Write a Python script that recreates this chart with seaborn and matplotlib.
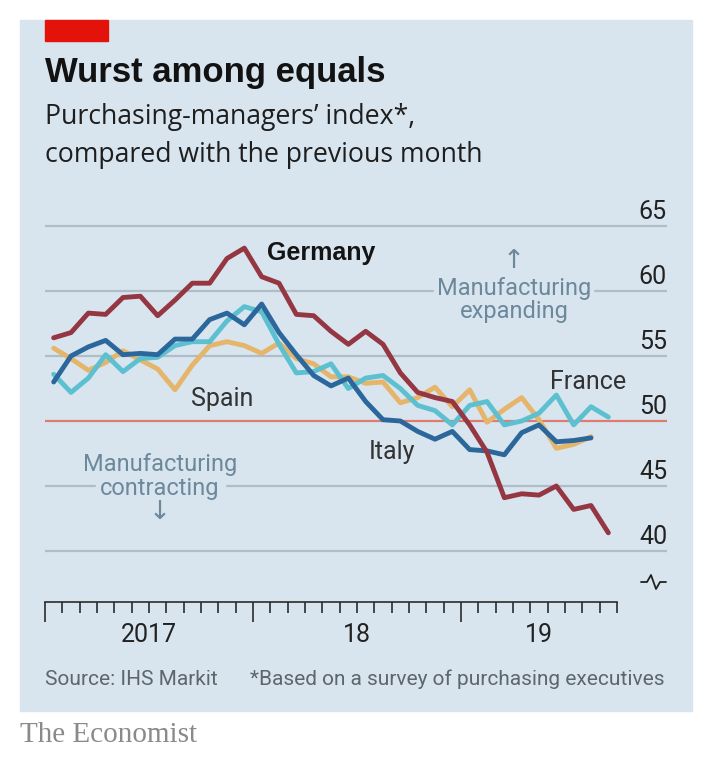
import numpy as np
import pandas as pd
import matplotlib
matplotlib.use("Agg")
from matplotlib import pyplot as plt
from matplotlib.patches import Rectangle
from matplotlib.lines import Line2D
import seaborn as sns


# Monthly PMI readings, Jan 2017 onwards
germany = [56.4, 56.8, 58.3, 58.2, 59.5, 59.6, 58.1, 59.3, 60.6, 60.6, 62.5, 63.3,
           61.1, 60.6, 58.2, 58.1, 56.9, 55.9, 56.9, 55.9, 53.7, 52.2, 51.8, 51.5,
           49.7, 47.6, 44.1, 44.4, 44.3, 45.0, 43.2, 43.5, 41.4]
france = [53.6, 52.2, 53.3, 55.1, 53.8, 54.8, 54.9, 55.8, 56.1, 56.1, 57.7, 58.8,
          58.4, 55.9, 53.7, 53.8, 54.4, 52.5, 53.3, 53.5, 52.5, 51.2, 50.8, 49.7,
          51.2, 51.5, 49.7, 50.0, 50.6, 52.0, 49.7, 51.1, 50.3]
italy = [53.0, 55.0, 55.7, 56.2, 55.1, 55.2, 55.1, 56.3, 56.3, 57.8, 58.3, 57.4,
         59.0, 56.8, 55.1, 53.5, 52.7, 53.3, 51.5, 50.1, 50.0, 49.2, 48.6, 49.2,
         47.8, 47.7, 47.4, 49.1, 49.7, 48.4, 48.5, 48.7]
spain = [55.6, 54.8, 53.9, 54.5, 55.4, 54.7, 54.0, 52.4, 54.3, 55.8, 56.1, 55.8,
         55.2, 56.0, 54.8, 54.4, 53.4, 53.4, 52.9, 53.0, 51.4, 51.8, 52.6, 51.1,
         52.4, 49.9, 50.9, 51.8, 50.1, 47.9, 48.2, 48.8]

countries = ["Spain", "France", "Italy", "Germany"]   # draw order, last on top
series = {"Germany": germany, "France": france, "Italy": italy, "Spain": spain}
colours = {"Germany": "#953643", "France": "#5cc0d1", "Italy": "#2c679c", "Spain": "#e4b56a"}

year_labels = ["2017", "18", "19"]
y_labels = [40, 45, 50, 55, 60, 65]

start = pd.Period("2017-01", freq="M")
axis_end = pd.Period("2019-10", freq="M")

rows = []
for name, vals in series.items():
    months = pd.period_range(start, periods=len(vals), freq="M")
    for m, v in zip(months, vals):
        # plot each month in the middle of its slot
        rows.append({"country": name, "x": (m - start).n + 0.5, "value": v})
df = pd.DataFrame(rows)

BG = "#d9e5ee"
GRID = "#aebdc8"
RED = "#e07b72"
NOTE = "#6c899c"

sns.set_style("white")
COND = ["Roboto", "DejaVu Sans"]
SANS = ["Liberation Sans", "DejaVu Sans"]
plt.rcParams["font.family"] = COND

W, H = 720, 770
fig = plt.figure(figsize=(W / 100, H / 100), dpi=100, facecolor="white")


def fx(px):
    return px / W


def fy(py):
    return 1 - py / H


# blue panel and red tag
fig.add_artist(Rectangle((fx(20), fy(711)), fx(672), (711 - 20) / H,
                         transform=fig.transFigure, color=BG, zorder=0))
fig.add_artist(Rectangle((fx(45), fy(41)), fx(63), 21 / H,
                         transform=fig.transFigure, color="#e3120b", zorder=1))

fig.text(fx(45), fy(82), "Wurst among equals", family=SANS, fontsize=25,
         fontweight="bold", color="#121212", va="baseline")
SUB = ["Open Sans", "DejaVu Sans"]
fig.text(fx(45), fy(124), "Purchasing-managers\u2019 index*,", family=SUB,
         fontsize=19.2, color="#1e1e1e", va="baseline")
fig.text(fx(45), fy(162), "compared with the previous month", family=SUB,
         fontsize=19.2, color="#1e1e1e", va="baseline")

fig.text(fx(45), fy(685), "Source: IHS Markit", fontsize=15, color="#5d666c", va="baseline")
fig.text(fx(665), fy(685), "*Based on a survey of purchasing executives", fontsize=15,
         color="#5d666c", va="baseline", ha="right")
fig.text(fx(20), fy(742), "The Economist", family=["Liberation Serif", "DejaVu Serif"],
         fontsize=21, color="#8a8a8a", va="baseline")

# axes: left edge = Jan 2017, bottom = x-axis line
ax_left, ax_right, ax_top, ax_bottom = 45, 667, 218, 602
ax = fig.add_axes([fx(ax_left), fy(ax_bottom), (ax_right - ax_left) / W, (ax_bottom - ax_top) / H])
ax.patch.set_visible(False)

px_per_unit = 13.0
ax.set_ylim(40 - (ax_bottom - 551) / px_per_unit, 65 + (226 - ax_top) / px_per_unit)
ax.set_xlim(0, (ax_right - ax_left) / (208 / 12))


def frac(px):
    return (px - ax_left) / (ax_right - ax_left)


# gridlines, two of them broken where the notes sit
ax.axhline(40, color=GRID, lw=1.6, zorder=1)
ax.axhline(45, xmax=frac(95), color=GRID, lw=1.6, zorder=1)
ax.axhline(45, xmin=frac(227), color=GRID, lw=1.6, zorder=1)
ax.axhline(55, color=GRID, lw=1.6, zorder=1)
ax.axhline(60, xmax=frac(433), color=GRID, lw=1.6, zorder=1)
ax.axhline(60, xmin=frac(595), color=GRID, lw=1.6, zorder=1)
ax.axhline(65, color=GRID, lw=1.6, zorder=1)
ax.axhline(50, color=RED, lw=1.6, zorder=1.5)

sns.lineplot(data=df, x="x", y="value", hue="country", hue_order=countries,
             palette=colours, lw=3.5, legend=False, errorbar=None, ax=ax, zorder=2)
for ln in ax.lines:
    ln.set_solid_joinstyle("round")

ax.set_xlabel("")
ax.set_ylabel("")
for s in ["left", "right", "top"]:
    ax.spines[s].set_visible(False)
n_months = (axis_end - start).n
ax.spines["bottom"].set_bounds(0, n_months)
ax.spines["bottom"].set_color("#2a2a2a")
ax.spines["bottom"].set_linewidth(1.2)

ax.set_yticks([])
ax.set_xticks(np.arange(0, n_months + 1, 12))
ax.set_xticks(np.arange(0, n_months + 1), minor=True)
ax.tick_params(axis="x", which="major", bottom=True, direction="out", length=14.5,
               width=1.2, color="#2a2a2a", labelbottom=False)
ax.tick_params(axis="x", which="minor", bottom=True, direction="out", length=8,
               width=1.2, color="#2a2a2a", labelbottom=False)

# year labels centred in each year slot
year_starts = list(range(0, n_months, 12))
for lab, ys in zip(year_labels, year_starts):
    ye = min(ys + 12, n_months)
    ax.annotate(lab, xy=((ys + ye) / 2, 0), xycoords=("data", "axes fraction"),
                xytext=(0, -15), textcoords="offset points", ha="center", va="top",
                fontsize=18, color="#222222")

# y labels sit above their gridlines on the right
for v in y_labels:
    ax.annotate(str(v), xy=(1, v), xycoords=("axes fraction", "data"),
                xytext=(0, 5), textcoords="offset points", ha="right", va="baseline",
                fontsize=18, color="#222222")

# series labels
ax.text(12.8, 62.4, "Germany", family=SANS, fontsize=18, fontweight="bold",
        color="#141414", va="baseline")
ax.text(8.42, 51.15, "Spain", fontsize=18, color="#333333", va="baseline")
ax.text(29.14, 52.46, "France", fontsize=18, color="#333333", va="baseline")
ax.text(18.7, 47.05, "Italy", fontsize=18, color="#333333", va="baseline")

# notes: baseline of a multi-line text is that of its last line
ax.text(27.06, 62.3, "\u2191", fontsize=19, color=NOTE, ha="center", va="center",
        family=["DejaVu Sans"])
ax.text(27.06, 57.92, "Manufacturing\nexpanding", fontsize=17, color=NOTE, ha="center",
        va="baseline", linespacing=1.0, zorder=3)
ax.text(6.64, 44.31, "Manufacturing\ncontracting", fontsize=17, color=NOTE, ha="center",
        va="baseline", linespacing=1.05, zorder=3)
ax.text(6.64, 43.0, "\u2193", fontsize=19, color=NOTE, ha="center", va="center",
        family=["DejaVu Sans"])

# axis-break mark
bx = [641, 647, 651, 656, 660, 666]
by = [582, 582, 575, 589, 582, 582]
ax.add_line(Line2D([frac(p) for p in bx],
                   [(ax_bottom - p) / (ax_bottom - ax_top) for p in by],
                   transform=ax.transAxes, color="#222222", lw=1.3, clip_on=False))

fig.savefig("out.png", dpi=100, facecolor="white")
